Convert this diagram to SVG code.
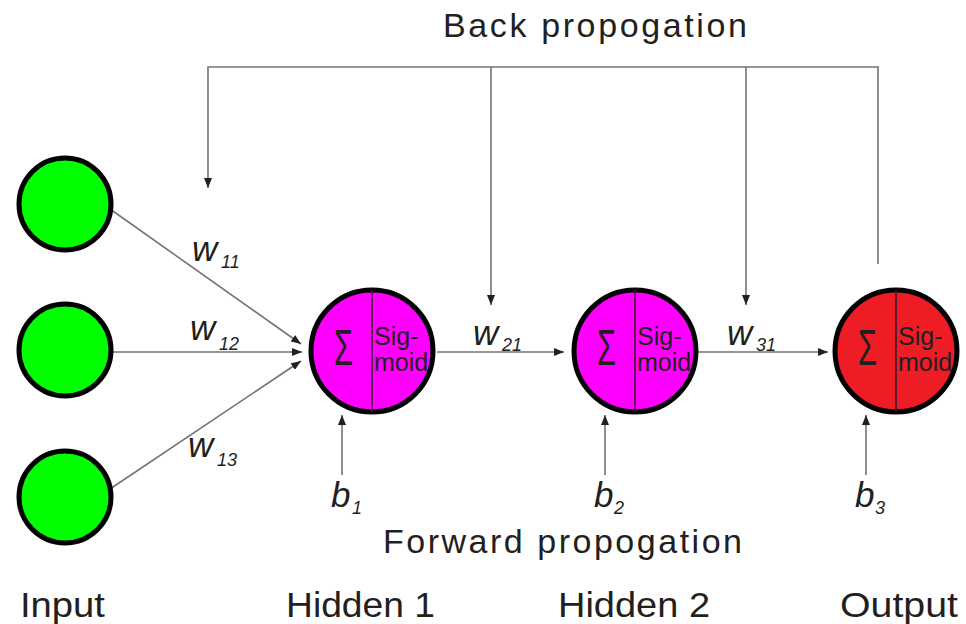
<svg xmlns="http://www.w3.org/2000/svg" width="966" height="624" viewBox="0 0 966 624">
<style>
.t{font-family:"Liberation Sans",Arial,sans-serif;fill:#231f20}
.big{font-size:34px}
.lbl{font-size:35px}
.w{font-size:35px;font-style:italic}
.sub{font-size:18px;font-style:italic}
.sig{font-size:25px}
.sigma{font-size:50px}
.ln{stroke:#777172;stroke-width:1.6;fill:none}
.in{fill:#00ff00;stroke:#000;stroke-width:5}
.hid{fill:#ff00ff;stroke:#000;stroke-width:5}
.out{fill:#ee1c25;stroke:#000;stroke-width:5}
.div{stroke:#3a1a30;stroke-width:1.6}
</style>
<defs>
<marker id="ah" markerWidth="10" markerHeight="8" refX="10" refY="4" orient="auto" markerUnits="userSpaceOnUse">
<path d="M0,0 L10,4 L0,8 Z" fill="#231f20"/>
</marker>
</defs>

<g id="connectors">
<line class="ln" x1="110" y1="209" x2="301" y2="344" marker-end="url(#ah)"/>
<line class="ln" x1="113" y1="352" x2="302" y2="352" marker-end="url(#ah)"/>
<line class="ln" x1="110" y1="489" x2="301" y2="361" marker-end="url(#ah)"/>
<line class="ln" x1="437" y1="352" x2="564" y2="352" marker-end="url(#ah)"/>
<line class="ln" x1="698" y1="352" x2="828" y2="352" marker-end="url(#ah)"/>
<line class="ln" x1="342" y1="475" x2="342" y2="415" marker-end="url(#ah)"/>
<line class="ln" x1="605" y1="475" x2="605" y2="415" marker-end="url(#ah)"/>
<line class="ln" x1="866" y1="475" x2="866" y2="415" marker-end="url(#ah)"/>
<polyline class="ln" points="878,264 878,67 208,67 208,188" marker-end="url(#ah)"/>
<line class="ln" x1="491" y1="67" x2="491" y2="305" marker-end="url(#ah)"/>
<line class="ln" x1="746" y1="67" x2="746" y2="305" marker-end="url(#ah)"/>
</g>

<g id="input1"><circle class="in" cx="65" cy="204" r="46"/></g>
<g id="input2"><circle class="in" cx="65" cy="350" r="46"/></g>
<g id="input3"><circle class="in" cx="65" cy="497" r="46"/></g>

<g id="hidden1">
<circle class="hid" cx="372" cy="351" r="61"/>
<line class="div" x1="372" y1="290" x2="372" y2="412"/>
<text class="t sigma" x="334" y="365" textLength="19" lengthAdjust="spacingAndGlyphs">Σ</text>
<text class="t sig" x="374" y="345">Sig-</text>
<text class="t sig" x="374" y="371">moid</text>
</g>

<g id="hidden2">
<circle class="hid" cx="635" cy="351" r="61"/>
<line class="div" x1="635" y1="290" x2="635" y2="412"/>
<text class="t sigma" x="597" y="365" textLength="19" lengthAdjust="spacingAndGlyphs">Σ</text>
<text class="t sig" x="637" y="345">Sig-</text>
<text class="t sig" x="637" y="371">moid</text>
</g>

<g id="output">
<circle class="out" cx="896" cy="351" r="61"/>
<line class="div" x1="896" y1="290" x2="896" y2="412"/>
<text class="t sigma" x="858" y="365" textLength="19" lengthAdjust="spacingAndGlyphs">Σ</text>
<text class="t sig" x="898" y="345">Sig-</text>
<text class="t sig" x="898" y="371">moid</text>
</g>

<g id="labels">
<text class="t w" x="192" y="261">w</text><text class="t sub" x="221" y="268">11</text>
<text class="t w" x="190" y="340">w</text><text class="t sub" x="219" y="350">12</text>
<text class="t w" x="188" y="457">w</text><text class="t sub" x="217" y="466">13</text>
<text class="t w" x="473" y="345">w</text><text class="t sub" x="502" y="351">21</text>
<text class="t w" x="727" y="345">w</text><text class="t sub" x="756" y="351">31</text>
<text class="t w" x="331" y="507">b</text><text class="t sub" x="352" y="514">1</text>
<text class="t w" x="594" y="507">b</text><text class="t sub" x="614" y="514">2</text>
<text class="t w" x="855" y="507">b</text><text class="t sub" x="875" y="514">3</text>
<text class="t big" x="443" y="37" textLength="304" lengthAdjust="spacing">Back propogation</text>
<text class="t big" x="383" y="553" textLength="359" lengthAdjust="spacing">Forward propogation</text>
<text class="t lbl" x="20" y="617" textLength="85" lengthAdjust="spacingAndGlyphs">Input</text>
<text class="t lbl" x="286" y="617" textLength="149" lengthAdjust="spacingAndGlyphs">Hidden 1</text>
<text class="t lbl" x="558" y="617" textLength="152" lengthAdjust="spacingAndGlyphs">Hidden 2</text>
<text class="t lbl" x="840" y="617" textLength="118" lengthAdjust="spacingAndGlyphs">Output</text>
</g>
</svg>
